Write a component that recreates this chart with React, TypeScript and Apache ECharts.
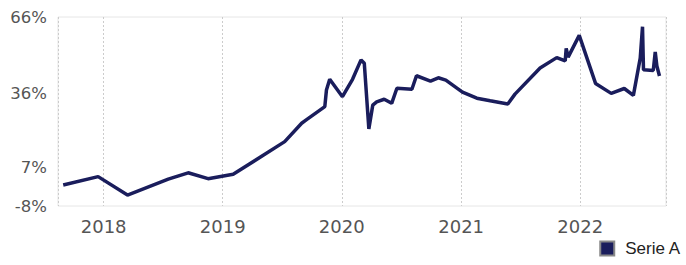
import React, { useEffect, useRef } from "react";
import * as echarts from "echarts";

const dates = [
  "2017-08-30", "2017-12-15", "2018-03-15", "2018-07-18", "2018-09-17", "2018-11-17",
  "2019-02-02", "2019-07-10", "2019-08-31", "2019-09-14", "2019-11-10", "2019-11-15",
  "2019-11-25", "2020-01-03", "2020-02-03", "2020-02-29", "2020-03-10", "2020-03-24",
  "2020-04-05", "2020-04-17", "2020-05-10", "2020-06-02", "2020-06-18", "2020-08-03",
  "2020-08-17", "2020-09-29", "2020-10-23", "2020-11-15", "2021-01-05", "2021-02-18",
  "2021-03-31", "2021-05-24", "2021-06-15", "2021-08-31", "2021-10-21", "2021-11-16",
  "2021-11-19", "2021-11-25", "2021-12-29", "2022-02-17", "2022-04-06", "2022-05-16",
  "2022-06-13", "2022-07-04", "2022-07-11", "2022-07-14", "2022-08-13", "2022-08-19",
  "2022-08-24", "2022-09-01",
];

const serieA = [
  0.2, 3.5, -3.7, 2.5, 5.0, 2.7,
  4.4, 17.2, 24.4, 25.7, 30.9, 37.4,
  41.6, 34.8, 41.6, 49.2, 47.9, 22.2,
  31.5, 32.8, 33.8, 32.2, 38.1, 37.7,
  43.0, 40.9, 42.2, 41.3, 36.6, 34.2,
  33.2, 31.9, 35.8, 46.0, 50.1, 48.8,
  53.7, 50.3, 58.8, 40.0, 36.1, 38.0,
  35.3, 49.9, 62.2, 45.3, 45.1, 52.3,
  46.8, 42.9,
];

const yTicks = [-8, 7, 36, 66];

export default function App() {
  const ref = useRef<HTMLDivElement>(null);
  useEffect(() => {
    if (!ref.current) return;
    const chart = echarts.init(ref.current, null, { renderer: "svg" });
    chart.setOption({
      animation: false,
      grid: {
        left: 58,
        right: 20,
        top: 17,
        bottom: 59,
        show: true,
        borderColor: "#e6e6e6",
        borderWidth: 1,
        containLabel: false,
      },
      legend: {
        right: 0,
        bottom: 3,
        itemWidth: 14,
        itemHeight: 14,
        icon: "rect",
        itemStyle: { borderColor: "#888888", borderWidth: 2 },
        textStyle: { fontFamily: "Liberation Sans", fontSize: 17, color: "#222", padding: [0, 0, 0, 6] },
        data: ["Serie A"],
      },
      xAxis: {
        type: "time",
        min: "2017-08-14",
        max: "2022-09-21",
        splitNumber: 5,
        axisLine: { show: false },
        axisTick: { show: false },
        axisLabel: {
          formatter: "{yyyy}",
          fontFamily: "DejaVu Sans",
          fontSize: 18,
          color: "#555",
          margin: 11,
          showMinLabel: false,
          showMaxLabel: false,
        },
        splitLine: { show: true, lineStyle: { color: "#cccccc", type: [2, 2], width: 1 } },
      },
      yAxis: {
        type: "value",
        min: -8,
        max: 66,
        axisLine: { show: false },
        axisTick: { show: false },
        splitLine: { show: false },
        axisLabel: {
          customValues: yTicks,
          formatter: "{value}%",
          fontFamily: "DejaVu Sans",
          fontSize: 16.5,
          color: "#555",
          margin: 11,
        },
      },
      series: [
        {
          name: "Serie A",
          type: "line",
          data: dates.map((d, i) => [d, serieA[i]]),
          showSymbol: false,
          symbol: "none",
          lineStyle: { color: "#1a1d5c", width: 3.5 },
          itemStyle: { color: "#1a1d5c" },
        },
      ],
    });
    return () => chart.dispose();
  }, []);
  return (
    <div
      ref={ref}
      style={{ position: "absolute", left: 0, top: 0, width: 686, height: 265 }}
    />
  );
}
